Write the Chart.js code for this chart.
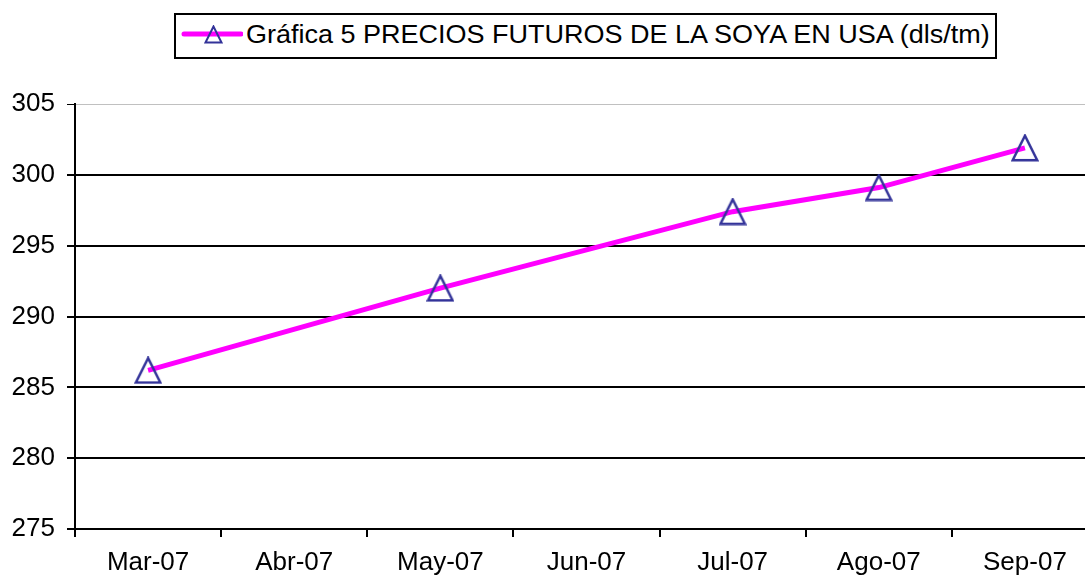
<!DOCTYPE html>
<html>
<head>
<meta charset="utf-8">
<script src="https://cdn.jsdelivr.net/npm/chart.js@4"></script>
<style>
  body { margin: 0; overflow: hidden; background: #fff; width: 1085px; height: 578px; position: relative; }
  #wrap { position: absolute; left: 0; top: 0; width: 1117px; height: 578px; }
  #legend {
    position: absolute; left: 174px; top: 13px; width: 823px; height: 46px;
    box-sizing: border-box; border: 2px solid #000; background: #fff;
    font-family: "Liberation Sans", Arial, sans-serif; font-size: 25px; color: #000;
  }
  #legend canvas { position: absolute; left: 5px; top: 9px; }
  #legend span { position: absolute; left: 70px; top: 5px; white-space: nowrap; transform: scaleX(1.08); transform-origin: left center; }
</style>
</head>
<body>
<div id="wrap"><canvas id="chart" width="1117" height="578"></canvas></div>
<div id="legend"><canvas id="legend-mark" width="62" height="24"></canvas><span id="legend-text"></span></div>
<script>
const categories = ['Mar-07', 'Abr-07', 'May-07', 'Jun-07', 'Jul-07', 'Ago-07', 'Sep-07'];
const prices = [286.2, null, 292.0, null, 297.4, 299.1, 301.9];
const seriesName = 'Gráfica 5 PRECIOS FUTUROS DE LA SOYA EN USA (dls/tm)';
const yTicks = [275, 280, 285, 290, 295, 300, 305];

const lineColor = '#ff00ff';
const markColor = '#333399';

// hollow triangle marker, centred like Excel's
function triangle(size, lw) {
  const c = document.createElement('canvas');
  c.width = size; c.height = size;
  const g = c.getContext('2d');
  g.strokeStyle = markColor;
  g.lineWidth = lw;
  g.beginPath();
  g.moveTo(size / 2, lw / 2 + 0.5);
  g.lineTo(lw / 2 + 0.5, size - lw / 2 - 0.5);
  g.lineTo(size - lw / 2 - 0.5, size - lw / 2 - 0.5);
  g.closePath();
  g.stroke();
  return c;
}

// legend
document.getElementById('legend-text').textContent = seriesName;
const lm = document.getElementById('legend-mark').getContext('2d');
lm.strokeStyle = lineColor;
lm.lineWidth = 5;
lm.lineCap = 'round';
lm.beginPath();
lm.moveTo(3, 10);
lm.lineTo(60, 10);
lm.stroke();
lm.drawImage(triangle(19, 2), 23, 1);

Chart.defaults.font.family = '"Liberation Sans", Arial, sans-serif';
Chart.defaults.font.size = 26;
Chart.defaults.color = '#000';

new Chart(document.getElementById('chart'), {
  type: 'line',
  data: {
    labels: categories,
    datasets: [{
      label: seriesName,
      data: prices,
      borderColor: lineColor,
      borderWidth: 5,
      spanGaps: true,
      tension: 0,
      pointStyle: triangle(28, 2.5),
      pointRadius: 14,
      pointHoverRadius: 14
    }]
  },
  options: {
    responsive: false,
    animation: false,
    devicePixelRatio: 1,
    layout: { padding: { left: 0, right: 5, top: 104, bottom: 0 } },
    plugins: {
      legend: { display: false },
      tooltip: { enabled: false }
    },
    scales: {
      x: {
        offset: true,
        afterFit: (s) => { s.height = 49; },
        grid: {
          offset: true,
          drawOnChartArea: false,
          tickLength: 8,
          lineWidth: 2,
          color: '#000'
        },
        border: { color: '#000', width: 2 },
        ticks: { padding: 10, maxRotation: 0, autoSkip: false }
      },
      y: {
        min: yTicks[0],
        max: yTicks[yTicks.length - 1],
        afterFit: (s) => { s.width = 75; },
        afterBuildTicks: (s) => { s.ticks = yTicks.map(v => ({ value: v })); },
        grid: {
          color: (c) => c.tick && c.tick.value === 305 ? '#c0c0c0' : '#000',
          lineWidth: (c) => c.tick && c.tick.value === 305 ? 1 : 2,
          tickColor: '#000',
          tickLength: 8
        },
        border: { color: '#000', width: 2 },
        ticks: { padding: 12 }
      }
    }
  }
});
</script>
</body>
</html>
